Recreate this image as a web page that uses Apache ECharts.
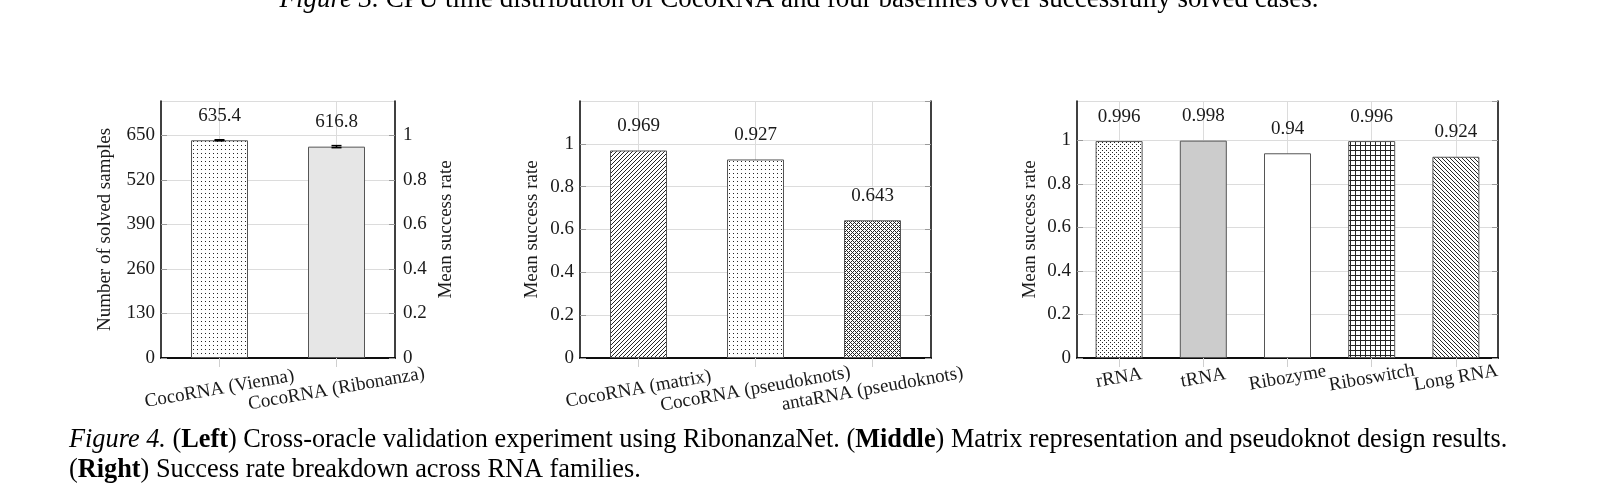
<!DOCTYPE html>
<html lang="en">
<head>
<meta charset="UTF-8">
<title>Figure 4</title>
<script src="https://cdn.jsdelivr.net/npm/echarts@6/dist/echarts.min.js"></script>
<style>
    html, body { margin: 0; padding: 0; background: #fff; }
    #container { width: 1598px; height: 499px; }
</style>
</head>
<body>
<div id="container"></div>
<script>
    // left panel: cross-oracle validation
    var oracleNames  = ['CocoRNA (Vienna)', 'CocoRNA (Ribonanza)'];
    var oracleSolved = [635.4, 616.8];
    var oracleErr    = [1.5, 3];

    // middle panel: matrix / pseudoknot design
    var designNames = ['CocoRNA (matrix)', 'CocoRNA (pseudoknots)', 'antaRNA (pseudoknots)'];
    var designRate  = [0.969, 0.927, 0.643];

    // right panel: RNA families
    var familyNames = ['rRNA', 'tRNA', 'Ribozyme', 'Riboswitch', 'Long RNA'];
    var familyRate  = [0.996, 0.998, 0.94, 0.996, 0.924];

    var serif = 'Liberation Serif';
    var ink = '#1a1a1a';

    //fill patterns, drawn on small canvas tiles
    function pattern(size, draw) {
        var c = document.createElement('canvas');
        c.width = c.height = size;
        var g = c.getContext('2d');
        g.fillStyle = '#fff';
        g.fillRect(0, 0, size, size);
        g.fillStyle = '#262626';
        g.strokeStyle = '#262626';
        g.lineWidth = 1;
        draw(g, size);
        return { image: c, repeat: 'repeat' };
    }
    var dots = pattern(4, function (g) { g.fillRect(1, 1, 1, 1); });
    var xdots = pattern(4, function (g) { g.fillRect(0, 0, 1, 1); g.fillRect(2, 2, 1, 1); });
    var xhatch = pattern(4, function (g) {
        [[0,0],[1,1],[2,2],[3,3],[1,3],[3,1]].forEach(function (p) { g.fillRect(p[0], p[1], 1, 1); });
    });
    var neLines = pattern(4, function (g, s) {
        g.beginPath();
        g.moveTo(-1, s + 1); g.lineTo(s + 1, -1);
        g.moveTo(-1, 1); g.lineTo(1, -1);
        g.moveTo(s - 1, s + 1); g.lineTo(s + 1, s - 1);
        g.stroke();
    });
    var nwLines = pattern(4, function (g, s) {
        g.beginPath();
        g.moveTo(-1, -1); g.lineTo(s + 1, s + 1);
        g.moveTo(s - 1, -1); g.lineTo(s + 1, 1);
        g.moveTo(-1, s - 1); g.lineTo(1, s + 1);
        g.stroke();
    });
    var gridFill = pattern(5, function (g) { g.fillRect(0, 0, 5, 1); g.fillRect(0, 0, 1, 5); });

    var oracleFills = [dots, '#e6e6e6'];
    var designFills = [neLines, dots, xhatch];
    var familyFills = [xdots, '#cccccc', '#ffffff', gridFill, nwLines];

    var grids = [
        { left: 161, top: 101, width: 234, height: 257 },
        { left: 580, top: 101, width: 351, height: 257 },
        { left: 1077, top: 101, width: 421, height: 257 }
    ];

    function bottomX(gi, cats, margin) {
        return {
            type: 'category', gridIndex: gi, position: 'bottom', data: cats,
            axisLine: { show: true, lineStyle: { color: '#000', width: 1.5 } },
            axisTick: { show: true, inside: false, alignWithLabel: true, length: 9, lineStyle: { color: '#cfcfcf' } },
            axisLabel: {
                interval: 0, rotate: 10, margin: margin, align: 'center', verticalAlign: 'middle',
                fontFamily: serif, fontSize: 19, color: ink
            },
            splitLine: { show: false }
        };
    }
    function topX(gi, cats) {
        return {
            type: 'category', gridIndex: gi, position: 'top', data: cats,
            axisLine: { show: true, lineStyle: { color: '#000', width: 1.5 } },
            axisTick: { show: true, inside: false, alignWithLabel: true, length: 8, lineStyle: { color: '#cfcfcf' } },
            axisLabel: { show: false },
            splitLine: { show: false }
        };
    }
    function valueY(gi, pos, max, interval, labels, name, gap, grid) {
        return {
            type: 'value', gridIndex: gi, position: pos, min: 0, max: max, interval: interval,
            name: name, nameLocation: 'middle', nameGap: gap, nameRotate: 90,
            nameTextStyle: { fontFamily: serif, fontSize: 19, color: ink },
            axisLine: { show: true, lineStyle: { color: '#000', width: 1.5 } },
            axisTick: { show: true, inside: true, length: 6, lineStyle: { color: '#9a9a9a' } },
            axisLabel: {
                show: labels, showMaxLabel: false, margin: pos === 'left' ? 6 : 8,
                fontFamily: serif, fontSize: 19, color: ink
            },
            splitLine: { show: grid, lineStyle: { color: '#dcdcdc', width: 1 } }
        };
    }

    function bars(gi, cats, values, fills, width) {
        return {
            type: 'bar', xAxisIndex: gi * 2, yAxisIndex: gi * 2, z: 2,
            barWidth: width,
            data: values.map(function (v, i) {
                return { value: v, itemStyle: { color: fills[i] } };
            }),
            itemStyle: { borderColor: '#555', borderWidth: 1 },
            label: {
                show: true, position: 'top', distance: 15,
                fontFamily: serif, fontSize: 19, color: ink
            },
            markLine: {
                silent: true, z: 1, symbol: ['none', 'none'],
                label: { show: false },
                lineStyle: { color: '#dcdcdc', width: 1, type: 'solid' },
                data: cats.map(function (c) { return { xAxis: c }; })
            }
        };
    }

    var myChart = echarts.init(document.getElementById('container'), null, { renderer: 'canvas' });

    myChart.setOption({
        animation: false,
        grid: grids,
        xAxis: [
            bottomX(0, oracleNames, 31), topX(0, oracleNames),
            bottomX(1, designNames, 31), topX(1, designNames),
            bottomX(2, familyNames, 20), topX(2, familyNames)
        ],
        yAxis: [
            valueY(0, 'left', 750, 130, true, 'Number of solved samples', 46, true),
            valueY(0, 'right', 750 / 650, 0.2, true, 'Mean success rate', 42, false),
            valueY(1, 'left', 1.2, 0.2, true, 'Mean success rate', 38, true),
            valueY(1, 'right', 1.2, 0.2, false, '', 0, false),
            valueY(2, 'left', 1.18, 0.2, true, 'Mean success rate', 37, true),
            valueY(2, 'right', 1.18, 0.2, false, '', 0, false)
        ],
        series: [
            bars(0, oracleNames, oracleSolved, oracleFills, 57),
            {
                type: 'custom', xAxisIndex: 0, yAxisIndex: 0, z: 3,
                data: oracleSolved.map(function (v, i) { return [i, v, oracleErr[i]]; }),
                renderItem: function (params, api) {
                    var x = api.value(0), v = api.value(1), e = api.value(2);
                    var lo = api.coord([x, v - e]), hi = api.coord([x, v + e]);
                    var w = 5, st = { stroke: '#000', lineWidth: 1.5 };
                    return {
                        type: 'group',
                        children: [
                            { type: 'line', shape: { x1: lo[0], y1: lo[1], x2: hi[0], y2: hi[1] }, style: st },
                            { type: 'line', shape: { x1: lo[0] - w, y1: lo[1], x2: lo[0] + w, y2: lo[1] }, style: st },
                            { type: 'line', shape: { x1: hi[0] - w, y1: hi[1], x2: hi[0] + w, y2: hi[1] }, style: st }
                        ]
                    };
                }
            },
            bars(1, designNames, designRate, designFills, 57),
            bars(2, familyNames, familyRate, familyFills, 47)
        ],
        graphic: [
            {
                type: 'text', left: 'center', top: -14, silent: true,
                style: {
                    text: '{i|Figure 3.} CPU time distribution of CocoRNA and four baselines over successfully solved cases.',
                    fontFamily: serif, fontSize: 27, fill: '#000',
                    rich: { i: { fontStyle: 'italic', fontFamily: serif, fontSize: 27 } }
                }
            },
            {
                type: 'text', x: 69, y: 440, silent: true,
                style: {
                    text: '{i|Figure 4.} ({b|Left}) Cross-oracle validation experiment using RibonanzaNet. ({b|Middle}) Matrix representation and pseudoknot design results.',
                    fontFamily: serif, fontSize: 26.3, fill: '#000', verticalAlign: 'middle',
                    rich: {
                        i: { fontStyle: 'italic', fontFamily: serif, fontSize: 26.3 },
                        b: { fontWeight: 'bold', fontFamily: serif, fontSize: 26.3 }
                    }
                }
            },
            {
                type: 'text', x: 69, y: 470, silent: true,
                style: {
                    text: '({b|Right}) Success rate breakdown across RNA families.',
                    fontFamily: serif, fontSize: 26.3, fill: '#000', verticalAlign: 'middle',
                    rich: { b: { fontWeight: 'bold', fontFamily: serif, fontSize: 26.3 } }
                }
            }
        ]
    });
</script>
</body>
</html>
